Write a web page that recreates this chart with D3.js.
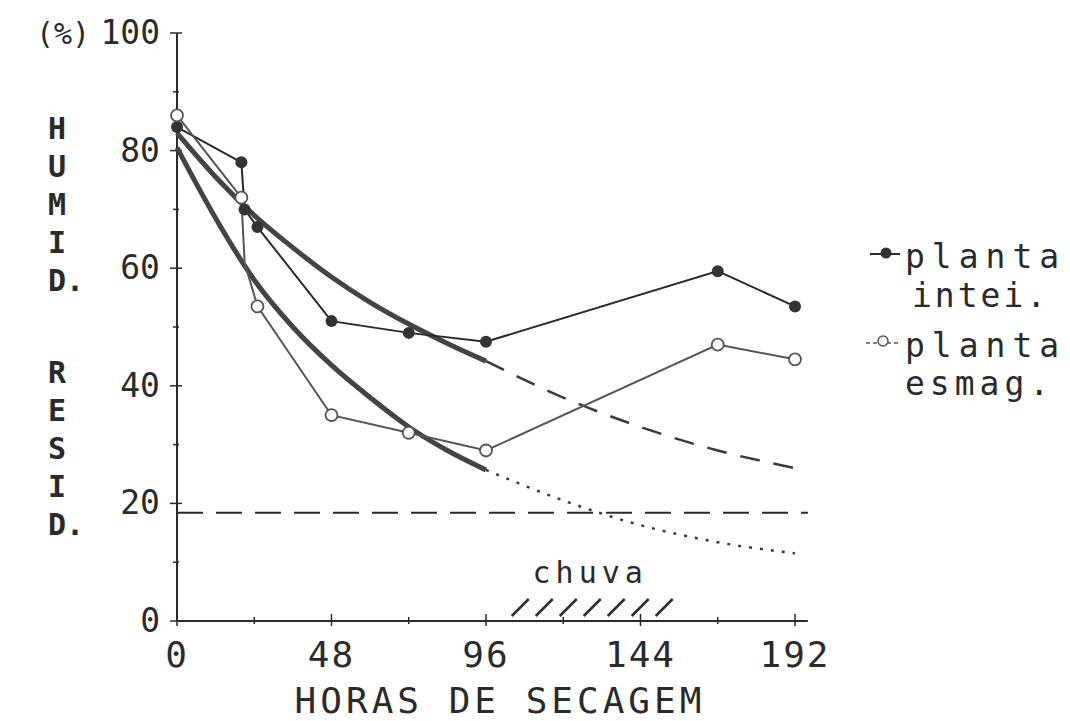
<!DOCTYPE html>
<html lang="pt">
<head>
    <meta charset="utf-8">
    <title>Humidade residual</title>
    <script src="https://d3js.org/d3.v7.min.js"></script>
    <style>
        body { margin: 0; background: #fff; }
        text { font-family: "DejaVu Sans Mono", "Liberation Mono", monospace; fill: #2a2a2a; }
    </style>
</head>
<body>
<svg width="1070" height="721"></svg>
<script>
// horas de secagem e humidade residual (%)
var hours = [0, 20, 21, 25, 48, 72, 96, 168, 192];
var plantaInteira = [84, 78, 70, 67, 51, 49, 47.5, 59.5, 53.5];
var plantaEsmagada = [86, 72, 61, 53.5, 35, 32, 29, 47, 44.5];
// pontos sem marcador visivel (so vertice da linha)
var esmagHidden = [21];

// curvas ajustadas (parte medida e extrapolada)
var fitHours = [0, 12, 24, 36, 48, 60, 72, 84, 96];
var fitInteira = [83, 75.5, 69, 63.5, 58.5, 54.2, 50.5, 47.2, 44.2];
var fitEsmagada = [80.5, 68.5, 58, 50, 43.5, 38, 33, 29, 25.7];
var extHours = [96, 120, 144, 168, 192];
var extInteira = [44.2, 38, 33, 29, 26];
var extEsmagada = [25.7, 20.5, 16.3, 13.4, 11.5];

var limitValue = 18.4;
var limitHours = [0, 196];
var rainHours = [104, 154];

var xTicks = [0, 48, 96, 144, 192];
var yTicks = [0, 20, 40, 60, 80, 100];
var yLetters1 = ["H", "U", "M", "I", "D."];
var yLetters2 = ["R", "E", "S", "I", "D."];

var svg = d3.select("svg");
var x = d3.scaleLinear().domain([0, 192]).range([177, 795]);
var y = d3.scaleLinear().domain([0, 100]).range([621, 33]);
var ink = "#2a2a2a";

// eixos
svg.append("line").attr("x1", x(0)).attr("x2", x(196)).attr("y1", y(0)).attr("y2", y(0))
    .attr("stroke", ink).attr("stroke-width", 2);
svg.append("line").attr("x1", x(0)).attr("x2", x(0)).attr("y1", y(0)).attr("y2", y(100))
    .attr("stroke", ink).attr("stroke-width", 2);

d3.range(0, 193, 24).forEach(function (h) {
    var big = h % 48 === 0;
    svg.append("line").attr("x1", x(h)).attr("x2", x(h))
        .attr("y1", y(0) - (big ? 7 : 4)).attr("y2", y(0) + (big ? 5 : 3))
        .attr("stroke", ink).attr("stroke-width", 1.5);
});
d3.range(0, 101, 10).forEach(function (v) {
    var big = v % 20 === 0;
    svg.append("line").attr("x1", x(0) - (big ? 7 : 4)).attr("x2", x(0) + (big ? 5 : 2))
        .attr("y1", y(v)).attr("y2", y(v))
        .attr("stroke", ink).attr("stroke-width", 1.5);
});

svg.selectAll(".xl").data(xTicks).enter().append("text")
    .attr("x", function (d) { return x(d); })
    .attr("y", 667)
    .attr("text-anchor", "middle")
    .attr("font-size", 36)
    .attr("letter-spacing", 2)
    .text(function (d) { return d; });

svg.selectAll(".yl").data(yTicks).enter().append("text")
    .attr("x", 160)
    .attr("y", function (d) { return y(d) + 11; })
    .attr("text-anchor", "end")
    .attr("font-size", 33)
    .text(function (d) { return d; });

svg.append("text").attr("x", 36).attr("y", 44).attr("font-size", 30).text("(%)");

yLetters1.forEach(function (l, i) {
    svg.append("text").attr("x", 48).attr("y", 139 + i * 38).attr("font-size", 30).attr("font-weight", "bold").text(l);
});
yLetters2.forEach(function (l, i) {
    svg.append("text").attr("x", 48).attr("y", 383 + i * 38).attr("font-size", 30).attr("font-weight", "bold").text(l);
});

svg.append("text").attr("x", 500).attr("y", 713).attr("text-anchor", "middle")
    .attr("font-size", 36).attr("letter-spacing", 4).text("HORAS DE SECAGEM");

// linha horizontal tracejada
svg.append("line").attr("x1", x(limitHours[0])).attr("x2", x(limitHours[1]))
    .attr("y1", y(limitValue)).attr("y2", y(limitValue))
    .attr("stroke", ink).attr("stroke-width", 2).attr("stroke-dasharray", "26,13");

// chuva
var rx0 = x(rainHours[0]), rx1 = x(rainHours[1]), sw = 17;
var step = (rx1 - rx0 - sw) / 6;
d3.range(7).forEach(function (i) {
    svg.append("line").attr("x1", rx0 + i * step).attr("y1", y(0) - 5)
        .attr("x2", rx0 + i * step + sw).attr("y2", y(0) - 22)
        .attr("stroke", ink).attr("stroke-width", 2.5);
});
svg.append("text").attr("x", (rx0 + rx1) / 2 - 2).attr("y", 583).attr("text-anchor", "middle")
    .attr("font-size", 30).attr("letter-spacing", 5).text("chuva");

// curvas ajustadas
var curve = d3.line().x(function (d) { return x(d[0]); }).y(function (d) { return y(d[1]); })
    .curve(d3.curveMonotoneX);
svg.append("path").datum(d3.zip(extHours, extInteira)).attr("d", curve)
    .attr("fill", "none").attr("stroke", "#3a3a3a").attr("stroke-width", 2.5)
    .attr("stroke-dasharray", "20,14");
svg.append("path").datum(d3.zip(extHours, extEsmagada)).attr("d", curve)
    .attr("fill", "none").attr("stroke", "#3a3a3a").attr("stroke-width", 2.5)
    .attr("stroke-dasharray", "3,8");
svg.append("path").datum(d3.zip(fitHours, fitInteira)).attr("d", curve)
    .attr("fill", "none").attr("stroke", "#444").attr("stroke-width", 5);
svg.append("path").datum(d3.zip(fitHours, fitEsmagada)).attr("d", curve)
    .attr("fill", "none").attr("stroke", "#444").attr("stroke-width", 5);

// séries observadas
var line = d3.line().x(function (d) { return x(d[0]); }).y(function (d) { return y(d[1]); });
svg.append("path").datum(d3.zip(hours, plantaInteira)).attr("d", line)
    .attr("fill", "none").attr("stroke", ink).attr("stroke-width", 2);
svg.append("path").datum(d3.zip(hours, plantaEsmagada)).attr("d", line)
    .attr("fill", "none").attr("stroke", "#555").attr("stroke-width", 2);

svg.selectAll(".pi").data(d3.zip(hours, plantaInteira)).enter().append("circle")
    .attr("cx", function (d) { return x(d[0]); }).attr("cy", function (d) { return y(d[1]); })
    .attr("r", 6).attr("fill", "#333");
svg.selectAll(".pe").data(d3.zip(hours, plantaEsmagada).filter(function (d) { return esmagHidden.indexOf(d[0]) < 0; }))
    .enter().append("circle")
    .attr("cx", function (d) { return x(d[0]); }).attr("cy", function (d) { return y(d[1]); })
    .attr("r", 6).attr("fill", "#fff").attr("stroke", "#555").attr("stroke-width", 1.8);

// legenda
svg.append("line").attr("x1", 870).attr("x2", 900).attr("y1", 254).attr("y2", 254)
    .attr("stroke", ink).attr("stroke-width", 2);
svg.append("circle").attr("cx", 886).attr("cy", 253).attr("r", 5.5).attr("fill", "#333");
svg.append("text").attr("x", 905).attr("y", 268).attr("font-size", 33).attr("letter-spacing", 7).text("planta");
svg.append("text").attr("x", 912).attr("y", 307).attr("font-size", 33).attr("letter-spacing", 3).text("intei.");

svg.append("line").attr("x1", 866).attr("x2", 900).attr("y1", 343).attr("y2", 343)
    .attr("stroke", "#555").attr("stroke-width", 1.5).attr("stroke-dasharray", "4,3");
svg.append("circle").attr("cx", 883).attr("cy", 341).attr("r", 5).attr("fill", "#fff")
    .attr("stroke", "#555").attr("stroke-width", 1.5);
svg.append("text").attr("x", 905).attr("y", 357).attr("font-size", 33).attr("letter-spacing", 7).text("planta");
svg.append("text").attr("x", 905).attr("y", 395).attr("font-size", 33).attr("letter-spacing", 5).text("esmag.");
</script>
</body>
</html>
